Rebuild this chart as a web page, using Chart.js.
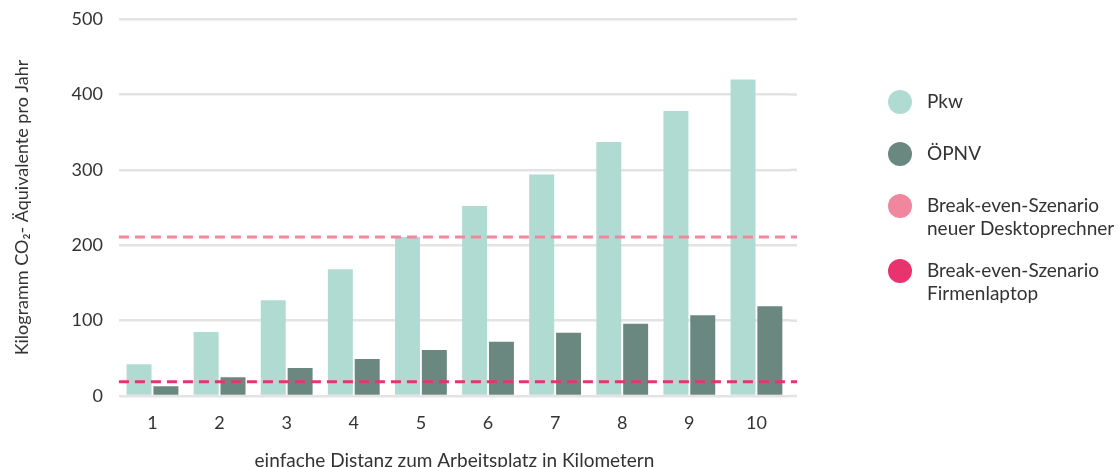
<!DOCTYPE html>
<html>
<head>
<meta charset="utf-8">
<script src="https://cdn.jsdelivr.net/npm/chart.js@4"></script>
<style>
  html, body { margin: 0; padding: 0; background: #fff; }
  #wrap { width: 1118px; height: 467px; }
</style>
</head>
<body>
<div id="wrap"><canvas id="co2Chart"></canvas></div>
<script>
const categories = ['1', '2', '3', '4', '5', '6', '7', '8', '9', '10'];
const pkwValues = [42, 85, 127, 168, 211, 252, 294, 337, 378, 420];
const oepnvValues = [13, 25, 37, 49, 61, 72, 84, 96, 107, 119];
const breakEvenLabels = ['Break-even-Szenario\nneuer Desktoprechner', 'Break-even-Szenario\nFirmenlaptop'];
const breakEvenValues = [211, 19];
const breakEvenColors = ['#f0879f', '#e8336e'];
const yTicks = [0, 100, 200, 300, 400, 500];

const fontFamily = 'Lato, "Noto Sans", sans-serif';
const textColor = '#333';

// dashed break-even lines across the whole plot, placed with the y scale
const breakEvenLines = {
    id: 'breakEvenLines',
    afterDatasetsDraw(chart) {
        const { ctx, chartArea, scales } = chart;
        ctx.save();
        ctx.lineWidth = 3;
        ctx.setLineDash([10, 6]);
        breakEvenValues.forEach((v, i) => {
            const y = scales.y.getPixelForValue(v);
            ctx.strokeStyle = breakEvenColors[i];
            ctx.beginPath();
            ctx.moveTo(chartArea.left, y);
            ctx.lineTo(chartArea.right + 7, y);
            ctx.stroke();
        });
        ctx.restore();
    }
};

// legend on the right, two-line labels allowed
const sideLegend = {
    id: 'sideLegend',
    afterDraw(chart) {
        const ctx = chart.ctx;
        const items = chart.data.datasets.map(ds => ({ text: ds.label, color: ds.backgroundColor }))
            .concat(breakEvenLabels.map((t, i) => ({ text: t, color: breakEvenColors[i] })));
        let y = 102;
        ctx.save();
        ctx.font = '19px ' + fontFamily;
        ctx.textBaseline = 'middle';
        items.forEach((item) => {
            const lines = item.text.split('\n');
            ctx.fillStyle = item.color;
            ctx.beginPath();
            ctx.arc(900, y, 12, 0, Math.PI * 2);
            ctx.fill();
            ctx.fillStyle = textColor;
            lines.forEach((line, i) => ctx.fillText(line, 927, y + i * 23));
            y += 39 + 13 * lines.length;
        });
        ctx.restore();
    }
};

// extend the horizontal grid a little past the last category
const gridExtend = {
    id: 'gridExtend',
    beforeDatasetsDraw(chart) {
        const { ctx, chartArea, scales } = chart;
        ctx.save();
        ctx.strokeStyle = '#e3e3e3';
        ctx.lineWidth = 2.5;
        yTicks.forEach(v => {
            const y = scales.y.getPixelForValue(v);
            ctx.beginPath();
            ctx.moveTo(chartArea.right, y);
            ctx.lineTo(chartArea.right + 7, y);
            ctx.stroke();
        });
        ctx.restore();
    }
};

document.addEventListener('DOMContentLoaded', () => {
    const ctx = document.getElementById('co2Chart').getContext('2d');

    const data = {
        labels: categories,
        datasets: [{
            label: 'Pkw',
            data: pkwValues,
            backgroundColor: '#b0dbd2',
            borderWidth: 0
        }, {
            label: 'ÖPNV',
            data: oepnvValues,
            backgroundColor: '#6b8880',
            borderWidth: 0
        }]
    };

    const config = {
        type: 'bar',
        data: data,
        options: {
            responsive: true,
            maintainAspectRatio: false,
            animation: false,
            layout: {
                padding: { top: 1, right: 328, bottom: -3, left: 11 }
            },
            datasets: {
                bar: { categoryPercentage: 0.8, barPercentage: 0.93 }
            },
            scales: {
                x: {
                    grid: { display: false, drawTicks: false },
                    border: { display: false },
                    ticks: { color: textColor, font: { family: fontFamily, size: 18, lineHeight: 1.167 }, padding: 17 },
                    title: {
                        display: true,
                        text: 'einfache Distanz zum Arbeitsplatz in Kilometern',
                        color: textColor,
                        font: { family: fontFamily, size: 19, lineHeight: 1 },
                        padding: { top: 0, bottom: 0 }
                    }
                },
                y: {
                    min: 0,
                    max: 500,
                    afterBuildTicks: (scale) => { scale.ticks = yTicks.map(v => ({ value: v })); },
                    grid: { color: '#e3e3e3', lineWidth: 2.5, drawTicks: false },
                    border: { display: false },
                    ticks: { color: textColor, font: { family: fontFamily, size: 18, lineHeight: 0.35 }, padding: 16 },
                    title: {
                        display: true,
                        text: 'Kilogramm CO₂- Äquivalente pro Jahr',
                        color: textColor,
                        font: { family: fontFamily, size: 18 },
                        padding: { top: 0, bottom: 23 }
                    }
                }
            },
            plugins: {
                legend: { display: false },
                tooltip: { enabled: false }
            }
        },
        plugins: [gridExtend, breakEvenLines, sideLegend]
    };

    new Chart(ctx, config);
});
</script>
</body>
</html>
